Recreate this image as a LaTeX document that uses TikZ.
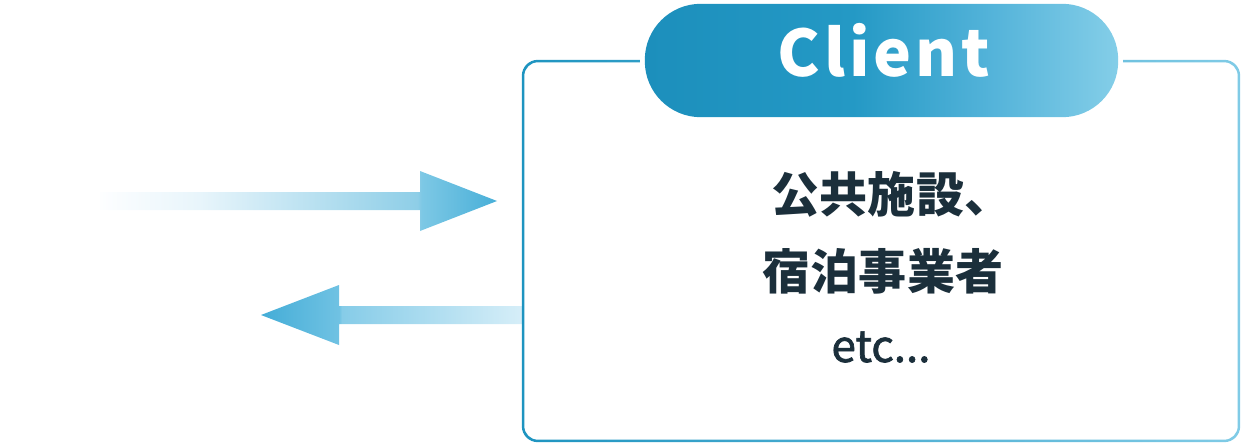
\documentclass[tikz,border=0pt]{standalone}
\usepackage{fontspec}
\newfontfamily\cjk{Noto Sans CJK JP}
\definecolor{textdark}{HTML}{1B2F3B}
\definecolor{ringL}{HTML}{1E94C0}
\definecolor{ringR}{HTML}{80CBE6}
\definecolor{pillA}{HTML}{1C8FBC}
\definecolor{pillB}{HTML}{2499C5}
\definecolor{pillC}{HTML}{55B4DA}
\definecolor{pillD}{HTML}{84CEE8}
\definecolor{ar0}{HTML}{FDFEFF}
\definecolor{arA}{HTML}{E8F5FB}
\definecolor{arB}{HTML}{8ECEE7}
\definecolor{arC}{HTML}{7DC8E5}
\definecolor{arD}{HTML}{48AFD8}
\definecolor{abA}{HTML}{44ADD7}
\definecolor{abB}{HTML}{70C2E3}
\definecolor{abC}{HTML}{86CCE8}
\definecolor{abD}{HTML}{D6EEF8}
\pgfdeclarehorizontalshading{ringsh}{100bp}{color(0bp)=(ringL); color(25bp)=(ringL); color(75bp)=(ringR); color(100bp)=(ringR)}
\pgfdeclarehorizontalshading{pillsh}{100bp}{color(0bp)=(pillA); color(25bp)=(pillA); color(47bp)=(pillB); color(62bp)=(pillC); color(75bp)=(pillD); color(100bp)=(pillD)}
\pgfdeclarehorizontalshading{arrR}{100bp}{color(0bp)=(ar0); color(25bp)=(ar0); color(37.5bp)=(arA); color(65bp)=(arB); color(65.5bp)=(arC); color(75bp)=(arD); color(100bp)=(arD)}
\pgfdeclarehorizontalshading{arrL}{100bp}{color(0bp)=(abA); color(25bp)=(abA); color(40bp)=(abB); color(40.5bp)=(abC); color(75bp)=(abD); color(100bp)=(abD)}
\begin{document}
\begin{tikzpicture}[x=1pt,y=-1pt,
  cjktxt/.style={text=textdark, inner sep=0, anchor=base, font=\cjk\bfseries\fontsize{48}{48}\selectfont\addfontfeature{LetterSpace=1}},
  etctxt/.style={text=textdark, inner sep=0, anchor=base, font=\cjk\fontsize{44}{44}\selectfont\addfontfeature{FakeBold=1.6}},
  clienttxt/.style={text=white, inner sep=0, anchor=base, font=\cjk\bfseries\fontsize{64}{64}\selectfont\addfontfeature{LetterSpace=6}},
  frame/.style={minimum width=718pt, minimum height=382pt, inner sep=0},
  pillbox/.style={minimum width=473pt, minimum height=113pt, inner sep=0}
]
\useasboundingbox (0,0) rectangle (1242,444);
% frame and pill placeholders
\node[frame] (box) at (881,251) {};
\node[pillbox] (pill) at (881.5,60.5) {};
% connector end points
\coordinate (a1s) at (100,201);
\coordinate (a1e) at (497,201);
\coordinate (a2s) at (522,315);
\coordinate (a2e) at (261,315);
% arrows
\shade[shading=arrR] (a1s) ++(0,-9) -- ++(320,0) -- ++(0,-21) -- (a1e) -- ++(-77,30) -- ++(0,-21) -- ++(-320,0) -- cycle;
\shade[shading=arrL] (a2s) ++(0,-9) -- ++(-183,0) -- ++(0,-21) -- (a2e) -- ++(78,30) -- ++(0,-21) -- ++(183,0) -- cycle;
% frame ring
\shade[shading=ringsh, even odd rule]
  [rounded corners=16pt] (box.south west) rectangle (box.north east)
  [rounded corners=13.5pt] ([xshift=2.5pt,yshift=2.5pt]box.south west) rectangle ([xshift=-2.5pt,yshift=-2.5pt]box.north east);
% gap in top edge
\fill[white] ([xshift=-5pt,yshift=6pt]pill.west) rectangle ([xshift=5pt,yshift=-6pt]pill.east);
% pill
\shade[shading=pillsh, rounded corners=56pt] (pill.south west) rectangle (pill.north east);
\node[clienttxt] (client) at (884,77) {Client};
% texts
\node[cjktxt] (l1) at (892,212) {公共施設、};
\node[cjktxt] (l2) at (883,289) {宿泊事業者};
\node[etctxt] (l3) at (881,362) {etc...};
\end{tikzpicture}
\end{document}
